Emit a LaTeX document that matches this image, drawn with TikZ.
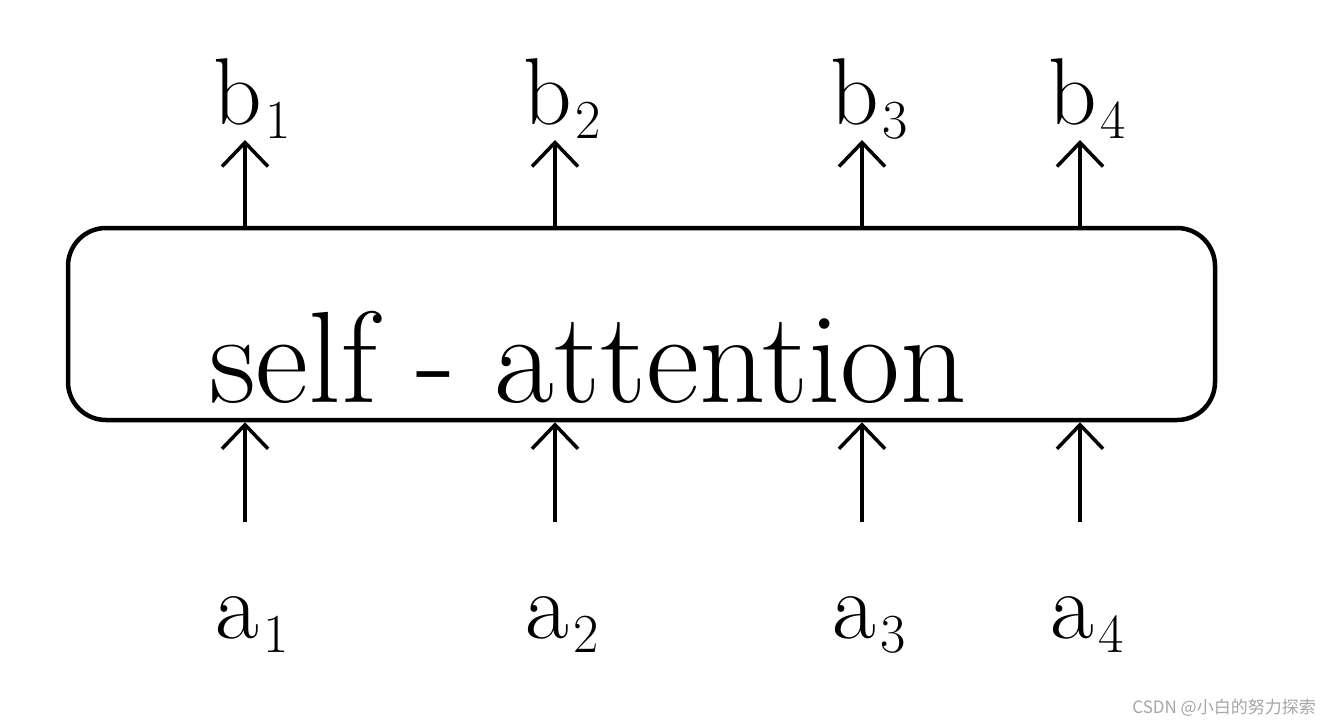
\documentclass[tikz,border=0pt]{standalone}
\usepackage{fontspec}
\newfontfamily\cjk{Noto Sans CJK SC}
\usetikzlibrary{arrows.meta}
\newcommand{\hlab}[2]{{\fontsize{95}{100}\selectfont #1}\kern4pt\raisebox{-14pt}{\fontsize{55}{60}\selectfont #2}}
\begin{document}
\begin{tikzpicture}[x=1pt,y=-1pt,
  arr/.style={line width=4pt,-{Straight Barb[length=24pt,width=46pt,line width=3.5pt]}},
  lbl/.style={inner sep=0pt,anchor=base},
  boxs/.style={draw,line width=4.5pt,rounded corners=38pt,minimum width=1147pt,minimum height=192pt,inner sep=0pt}]
\useasboundingbox (0,0) rectangle (1328,728);
\fill[white] (0,0) rectangle (1328,728);
\node[boxs] (sa) at (641.5,324) {};
\node[inner sep=0pt,anchor=base,font=\fontsize{130}{130}\selectfont] (txt) at (588,402) {self - attention};
\foreach \i/\x in {1/245,2/555,3/862,4/1080}{
  \node[lbl] (b\i) at (\x+7,124) {\hlab{b}{\i}};
  \node[lbl] (a\i) at (\x+7,638) {\hlab{a}{\i}};
  \coordinate (bt\i) at (\x,140);
  \coordinate (ab\i) at (\x,522);
  \draw[arr] (sa.north -| bt\i) -- (bt\i);
  \draw[arr] (ab\i) -- (sa.south -| ab\i);
}
\node[text=gray!70,font=\cjk\fontsize{17}{20}\selectfont,anchor=east,inner sep=0pt] (wm) at (1316,708) {CSDN @小白的努力探索};
\end{tikzpicture}
\end{document}
